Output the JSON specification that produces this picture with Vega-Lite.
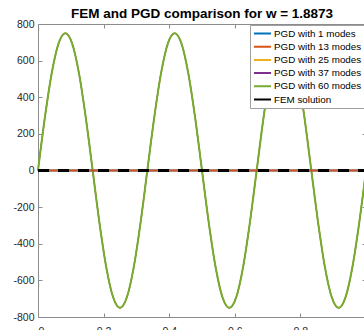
{
  "$schema": "https://vega.github.io/schema/vega-lite/v6.json",
  "width": 328,
  "height": 293,
  "autosize": "none",
  "padding": {"left": 38, "top": 24, "right": 0, "bottom": 13},
  "title": {"text": "FEM and PGD comparison for w = 1.8873", "font": "Liberation Sans", "fontSize": 13.5, "fontWeight": "bold", "color": "#000000", "offset": -1},
  "config": {
    "view": {"stroke": null},
    "axis": {"grid": false, "domainColor": "#8c8c8c", "tickColor": "#8c8c8c", "labelColor": "#262626", "labelFont": "Liberation Sans", "labelFontSize": 10.5, "tickSize": -4, "labelPadding": 8, "title": null, "domainWidth": 1, "labelExpr": "'' + datum.value"},
    "line": {"strokeWidth": 2, "clip": true}
  },
  "datasets": {
    "sine": [
      {"x": 0, "y": 0}, {"x": 0.0208, "y": 287}, {"x": 0.0417, "y": 530}, {"x": 0.0625, "y": 693},
      {"x": 0.0833, "y": 750}, {"x": 0.1042, "y": 693}, {"x": 0.125, "y": 530}, {"x": 0.1458, "y": 287},
      {"x": 0.1667, "y": 0}, {"x": 0.1875, "y": -287}, {"x": 0.2083, "y": -530}, {"x": 0.2292, "y": -693},
      {"x": 0.25, "y": -750}, {"x": 0.2708, "y": -693}, {"x": 0.2917, "y": -530}, {"x": 0.3125, "y": -287},
      {"x": 0.3333, "y": 0}, {"x": 0.3542, "y": 287}, {"x": 0.375, "y": 530}, {"x": 0.3958, "y": 693},
      {"x": 0.4167, "y": 750}, {"x": 0.4375, "y": 693}, {"x": 0.4583, "y": 530}, {"x": 0.4792, "y": 287},
      {"x": 0.5, "y": 0}, {"x": 0.5208, "y": -287}, {"x": 0.5417, "y": -530}, {"x": 0.5625, "y": -693},
      {"x": 0.5833, "y": -750}, {"x": 0.6042, "y": -693}, {"x": 0.625, "y": -530}, {"x": 0.6458, "y": -287},
      {"x": 0.6667, "y": 0}, {"x": 0.6875, "y": 287}, {"x": 0.7083, "y": 530}, {"x": 0.7292, "y": 693},
      {"x": 0.75, "y": 750}, {"x": 0.7708, "y": 693}, {"x": 0.7917, "y": 530}, {"x": 0.8125, "y": 287},
      {"x": 0.8333, "y": 0}, {"x": 0.8542, "y": -287}, {"x": 0.875, "y": -530}, {"x": 0.8958, "y": -693},
      {"x": 0.9167, "y": -750}, {"x": 0.9375, "y": -693}, {"x": 0.9583, "y": -530}, {"x": 0.9792, "y": -287},
      {"x": 1, "y": 0}
    ],
    "zero": [{"x": 0, "y": 0}, {"x": 1, "y": 0}]
  },
  "resolve": {"axis": {"x": "independent", "y": "independent"}},
  "layer": [
    {
      "data": {"name": "sine"},
      "mark": {"type": "line", "interpolate": "monotone", "strokeWidth": 1.2},
      "encoding": {
        "x": {"field": "x", "type": "quantitative", "scale": {"domain": [0, 1], "nice": false}, "axis": null},
        "y": {"field": "y", "type": "quantitative", "scale": {"domain": [-800, 800], "nice": false}, "axis": null},
        "color": {
          "datum": "PGD with 25 modes", "type": "nominal",
          "scale": {"domain": ["PGD with 1 modes", "PGD with 13 modes", "PGD with 25 modes", "PGD with 37 modes", "PGD with 60 modes", "FEM solution"], "range": ["#0072BD", "#D95319", "#EDB120", "#7E2F8E", "#77AC30", "#000000"]},
          "legend": {
            "title": null, "orient": "none", "legendX": 212, "legendY": 1, "direction": "vertical",
            "fillColor": "#ffffff", "strokeColor": "#a0a0a0", "padding": 3,
            "symbolType": "stroke", "symbolSize": 289, "symbolStrokeWidth": 2,
            "labelFont": "Liberation Sans", "labelFontSize": 9.8, "labelColor": "#000000", "labelOffset": 2,
            "clipHeight": 11, "rowPadding": 2.2,
            "encode": {"symbols": {"update": {
              "size": {"signal": "datum.value === 'FEM solution' ? 144 : 289"},
              "strokeWidth": {"signal": "datum.value === 'FEM solution' ? 3.5 : 2"}
            }}}
          }
        }
      }
    },
    {
      "data": {"name": "sine"},
      "mark": {"type": "line", "interpolate": "monotone", "strokeWidth": 1.2},
      "encoding": {
        "x": {"field": "x", "type": "quantitative", "axis": null},
        "y": {"field": "y", "type": "quantitative", "axis": null},
        "color": {"datum": "PGD with 37 modes", "type": "nominal"}
      }
    },
    {
      "data": {"name": "sine"},
      "mark": {"type": "line", "interpolate": "monotone"},
      "encoding": {
        "x": {"field": "x", "type": "quantitative", "axis": null},
        "y": {"field": "y", "type": "quantitative", "axis": null},
        "color": {"datum": "PGD with 60 modes", "type": "nominal"}
      }
    },
    {
      "data": {"name": "zero"},
      "mark": {"type": "line"},
      "encoding": {
        "x": {"field": "x", "type": "quantitative", "axis": null},
        "y": {"field": "y", "type": "quantitative", "axis": null},
        "color": {"datum": "PGD with 1 modes", "type": "nominal"}
      }
    },
    {
      "data": {"name": "zero"},
      "mark": {"type": "line"},
      "encoding": {
        "x": {"field": "x", "type": "quantitative", "axis": {"orient": "top", "labels": false, "values": [0, 0.2, 0.4, 0.6, 0.8, 1]}},
        "y": {"field": "y", "type": "quantitative", "axis": {"orient": "right", "labels": false, "values": [-800, -600, -400, -200, 0, 200, 400, 600, 800]}},
        "color": {"datum": "PGD with 13 modes", "type": "nominal"}
      }
    },
    {
      "data": {"name": "zero"},
      "mark": {"type": "line", "strokeDash": [11, 9], "strokeWidth": 3},
      "encoding": {
        "x": {"field": "x", "type": "quantitative", "axis": {"orient": "bottom", "values": [0, 0.2, 0.4, 0.6, 0.8], "labelPadding": 13}},
        "y": {"field": "y", "type": "quantitative", "axis": {"orient": "left", "values": [-800, -600, -400, -200, 0, 200, 400, 600, 800]}},
        "color": {"datum": "FEM solution", "type": "nominal"}
      }
    }
  ]
}
